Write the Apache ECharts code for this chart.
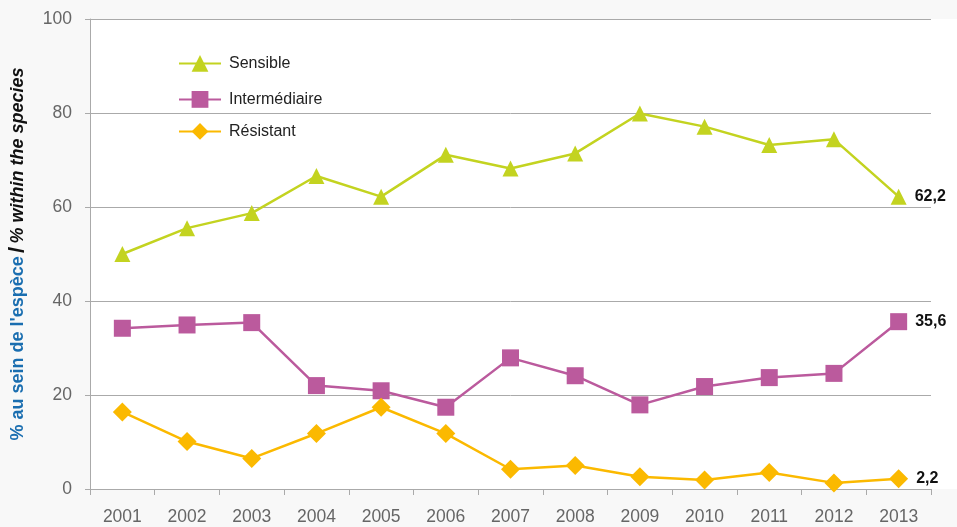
<!DOCTYPE html>
<html>
<head>
<meta charset="utf-8">
<script src="https://cdn.jsdelivr.net/npm/echarts@6/dist/echarts.min.js"></script>
<style>
html,body{margin:0;padding:0;background:#f8f8f8;}
#c{width:957px;height:527px;}
</style>
</head>
<body>
<div id="c"></div>
<script>
const years = ['2001','2002','2003','2004','2005','2006','2007','2008','2009','2010','2011','2012','2013'];
const sensible = [50.0, 55.5, 58.7, 66.6, 62.2, 71.1, 68.2, 71.4, 79.9, 77.1, 73.2, 74.4, 62.2];
const intermediaire = [34.2, 34.9, 35.4, 22.0, 20.9, 17.4, 27.9, 24.1, 17.9, 21.8, 23.7, 24.6, 35.6];
const resistant = [16.4, 10.1, 6.5, 11.8, 17.4, 11.8, 4.2, 5.0, 2.6, 1.9, 3.5, 1.3, 2.2];
const yTicks = [0, 20, 40, 60, 80, 100];

const font = 'Liberation Sans';
const chart = echarts.init(document.getElementById('c'));

function lastLabel(arr) {
  return {
    show: true,
    position: 'right',
    distance: 8,
    fontFamily: font,
    fontSize: 16,
    fontWeight: 'bold',
    color: '#111',
    formatter: function (p) {
      return p.dataIndex === arr.length - 1 ? String(p.value).replace('.', ',') : '';
    }
  };
}

function legendFor(name, top) {
  return {
    data: [name],
    left: 178,
    top: top,
    padding: 0,
    orient: 'vertical',
    itemWidth: 42,
    itemHeight: 21,
    itemGap: 8,
    textStyle: { fontFamily: font, fontSize: 16, color: '#222', padding: [0, 0, 0, 3] },
    selectedMode: false
  };
}

chart.setOption({
  backgroundColor: '#f8f8f8',
  animation: false,
  graphic: [{
    type: 'rect',
    z: -100,
    shape: { x: 90, y: 19, width: 867, height: 470 },
    style: { fill: '#ffffff' },
    silent: true
  }],
  legend: [
    legendFor('Sensible', 55),
    legendFor('Intermédiaire', 91),
    legendFor('Résistant', 123)
  ],
  grid: { left: 90, right: 26, top: 19, bottom: 38, containLabel: false, outerBoundsMode: 'none' },
  xAxis: {
    type: 'category',
    data: years,
    boundaryGap: true,
    axisLine: { show: true, lineStyle: { color: '#aaaaaa', width: 1 } },
    axisTick: { show: true, length: 6, lineStyle: { color: '#aaaaaa' } },
    axisLabel: { fontFamily: font, fontSize: 17.5, color: '#666666', margin: 19 },
    splitLine: { show: false }
  },
  yAxis: {
    type: 'value',
    min: 0,
    max: 100,
    interval: 20,
    name: '{b|% au sein de l\'espèce} {s|/} {i|% within the species}',
    nameLocation: 'middle',
    nameGap: 61,
    nameTextStyle: {
      rich: {
        b: { fontFamily: font, fontSize: 18, fontWeight: 'bold', color: '#1a6eb0' },
        s: { fontFamily: font, fontSize: 22, fontWeight: 'bold', color: '#111' },
        i: { fontFamily: font, fontSize: 18, fontWeight: 'bold', fontStyle: 'italic', color: '#111' }
      }
    },
    axisLine: { show: true, lineStyle: { color: '#aaaaaa', width: 1 } },
    axisTick: { show: true, length: 5, lineStyle: { color: '#aaaaaa' } },
    axisLabel: {
      fontFamily: font, fontSize: 17.5, color: '#666666', margin: 18,
      formatter: function (v) { return yTicks.indexOf(v) >= 0 ? String(v) : ''; }
    },
    splitLine: { show: true, lineStyle: { color: '#aaaaaa', width: 1 } }
  },
  series: [
    {
      name: 'Sensible',
      type: 'line',
      data: sensible,
      symbol: 'triangle',
      symbolSize: 16,
      color: '#c3d320',
      lineStyle: { width: 2.5, color: '#c3d320' },
      itemStyle: { color: '#c3d320' },
      label: lastLabel(sensible)
    },
    {
      name: 'Intermédiaire',
      type: 'line',
      data: intermediaire,
      symbol: 'rect',
      symbolSize: 17,
      color: '#bb5a9d',
      lineStyle: { width: 2.5, color: '#bb5a9d' },
      itemStyle: { color: '#bb5a9d' },
      label: lastLabel(intermediaire)
    },
    {
      name: 'Résistant',
      type: 'line',
      data: resistant,
      symbol: 'diamond',
      symbolSize: 19,
      color: '#fbb900',
      lineStyle: { width: 2.5, color: '#fbb900' },
      itemStyle: { color: '#fbb900' },
      label: lastLabel(resistant)
    }
  ]
});
</script>
</body>
</html>
